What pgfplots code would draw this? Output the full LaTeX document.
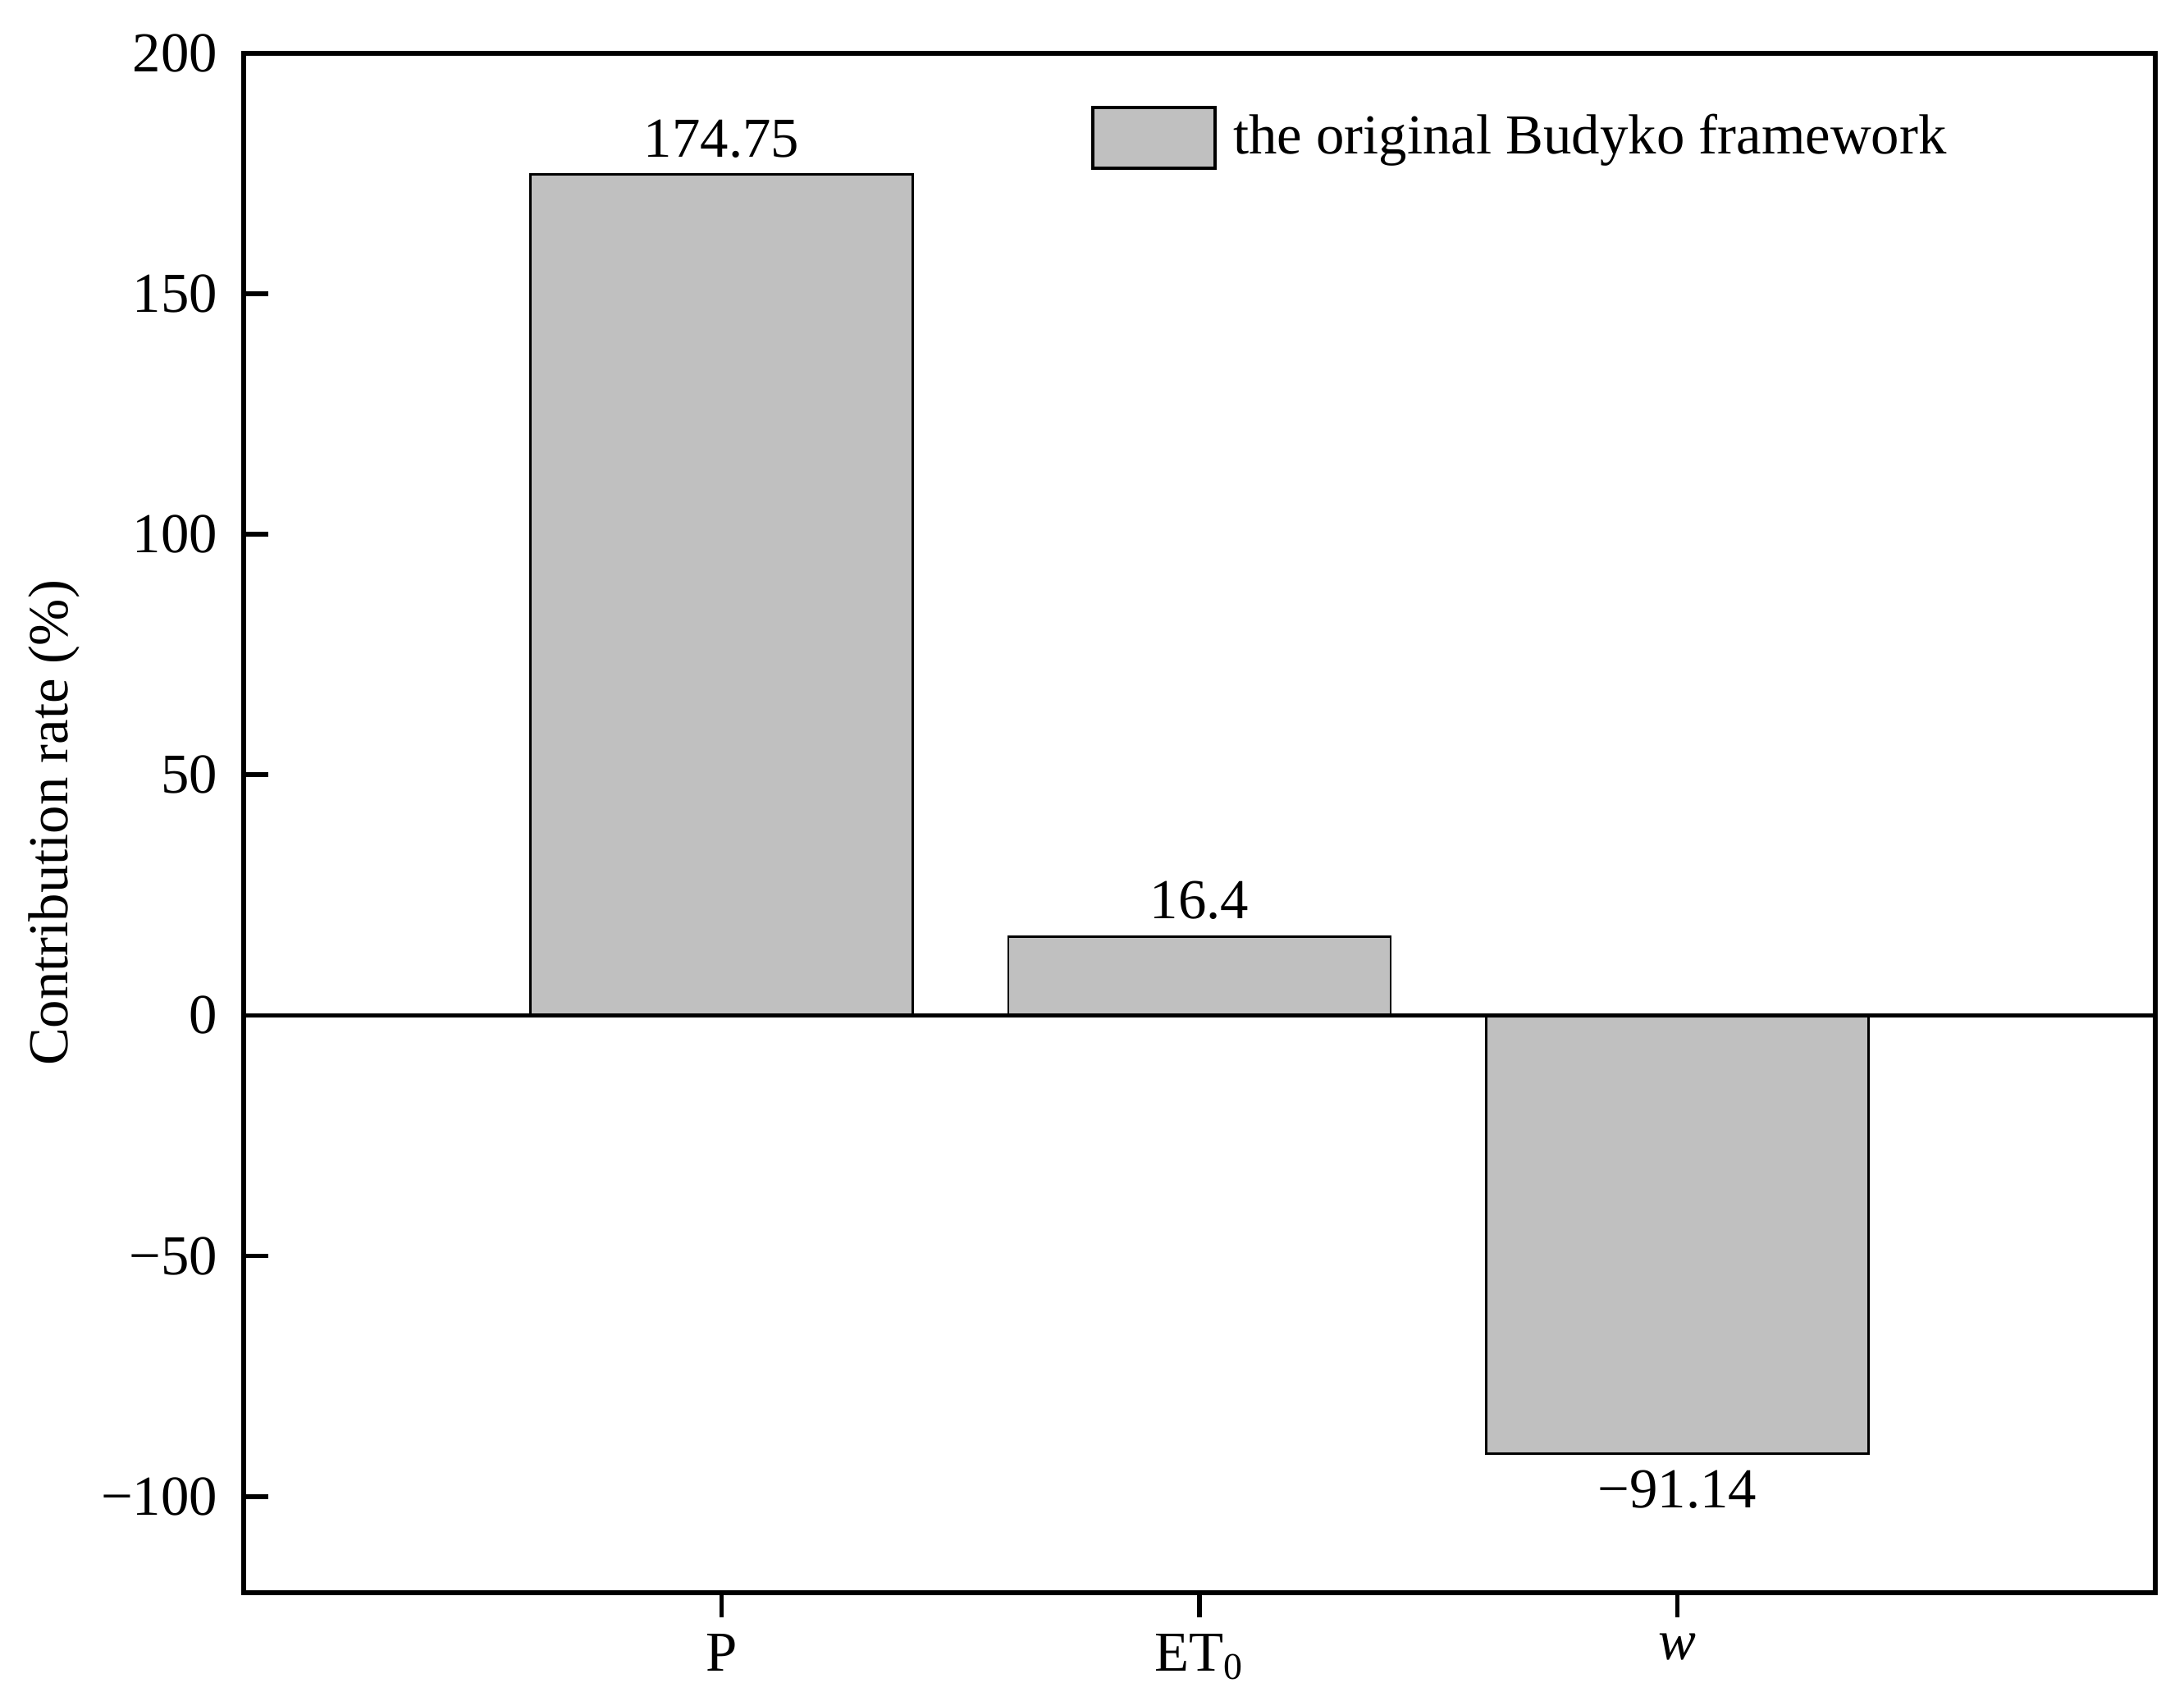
\documentclass[border=0pt]{standalone}
\usepackage{fontspec}
\setmainfont{Liberation Serif}
\usepackage{pgfplots}
\pgfplotsset{compat=1.18}

\definecolor{barfill}{HTML}{C0C0C0}

\begin{document}
\begin{tikzpicture}
\begin{axis}[name=ax,
  scale only axis, width=406.6pt, height=327.4pt,
  xmin=0, xmax=4, ymin=-120, ymax=200,
  axis line style={line width=1pt},
  xtick={1,2,3}, xticklabels={P, ET\textsubscript{0}, \textit{w}},
  ytick={-100,-50,0,50,100,150,200},
  yticklabels={−100,−50,0,50,100,150,200},
  tick align=inside, tickwidth=5.2pt,
  xtick pos=bottom, ytick pos=left,
  tick style={black, line width=1pt},
  tick label style={font=\fontsize{12}{14}\selectfont},
  yticklabel style={xshift=-2pt},
  ylabel={Contribution rate (\%)},
  ylabel style={font=\fontsize{12}{14}\selectfont, yshift=-2.4pt},
  ybar, bar width=0.8, bar shift=0pt,
  nodes near coords, point meta=explicit symbolic,
  every node near coord/.append style={font=\fontsize{12}{14}\selectfont, black},
  legend style={draw=none, fill=none, font=\fontsize{12}{14}\selectfont,
    at={(0.443,0.945)}, anchor=west, inner sep=0pt},
  legend image code/.code={\draw[barfill, fill=barfill, draw=black, line width=0.7pt] (0pt,-6.5pt) rectangle (26pt,6.5pt);},
]
\addplot[fill=barfill, draw=black, line width=0.5pt] coordinates {
  (1,174.75) [174.75]
  (2,16.4) [16.4]
};
\addlegendentry{\hspace{1.5pt}the original Budyko framework}
\addplot[fill=barfill, draw=black, line width=0.5pt, forget plot,
  every node near coord/.append style={anchor=north}] coordinates {
  (3,-91.14) [−91.14]
};
\draw[line width=0.8pt] (axis cs:0,0) -- (axis cs:4,0);
\end{axis}
\pgfresetboundingbox
\path ([xshift=-51.8pt,yshift=-21.1pt]ax.south west) rectangle ([xshift=6.1pt,yshift=11.3pt]ax.north east);
\end{tikzpicture}
\end{document}
